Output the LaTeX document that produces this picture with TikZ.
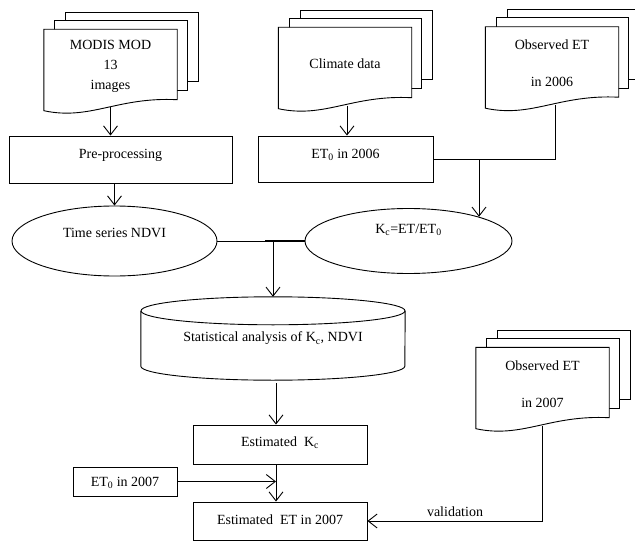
\documentclass[tikz,border=0pt]{standalone}
\usepackage{fontspec}
\setmainfont{Liberation Serif}
\usetikzlibrary{shapes.geometric,calc,arrows.meta,backgrounds}
\newcommand\docshape[1]{%
  \draw[docline] ($(#1.north west)+(22,-17)$) rectangle ($(#1.south east)+(21,-21)$);
  \draw[docline] ($(#1.north west)+(11,-9)$) rectangle ($(#1.south east)+(10,-12)$);
  \draw[docline] (#1.north west) -- (#1.north east) -- ($(#1.south east)+(0,-3)$)
    .. controls ($(#1.south east)+(-60,-6)$) and ($(#1.south west)+(46.5,18)$) .. ($(#1.south west)+(0,8)$) -- cycle;
}
\begin{document}
\begin{tikzpicture}[x=1pt,y=-1pt,
  every node/.style={font=\fontsize{14}{17}\selectfont},
  ln/.style={line width=0.9pt},
  arr/.style={line width=0.9pt,-{Straight Barb[length=9pt,width=14pt]}},
  box/.style={draw,line width=0.9pt,rectangle,inner sep=0pt,text height=10pt},
  oval/.style={draw,line width=0.9pt,ellipse,inner sep=0pt,text height=10pt},
  docnode/.style={rectangle,inner sep=0pt,minimum width=133pt,minimum height=73pt,align=center},
  docline/.style={fill=white,line width=0.9pt},
]
\useasboundingbox (0,0) rectangle (635,543);

% documents
\node[docnode] (modis) at (110.5,66) {MODIS MOD\\[3pt]13\\[3pt]images};
\node[docnode] (clim) at (345,64) {Climate data};
\node[docnode] (obs6) at (552,63.5) {Observed ET\\[20pt]in 2006};
\node[docnode] (obs7) at (542.5,384) {Observed ET\\[20pt]in 2007};

% boxes
\node[box,minimum width=223pt,minimum height=47pt,text depth=11.8pt] (pre) at (120.5,159.5) {Pre-processing};
\node[box,minimum width=175pt,minimum height=46pt,text depth=10.8pt] (et6) at (345.5,159) {ET\textsubscript{0} in 2006};
\node[oval,minimum width=205pt,minimum height=70pt,text depth=16.8pt] (ts) at (114.5,241) {Time series NDVI};
\node[oval,minimum width=207pt,minimum height=65pt,text depth=24.8pt] (kc) at (408.5,241) {K\textsubscript{c}=ET/ET\textsubscript{0}};
\node[rectangle,inner sep=0pt,minimum width=264pt,minimum height=83pt] (cyl) at (273,338.5) {Statistical analysis of K\textsubscript{c}, NDVI};
\node[box,minimum width=174pt,minimum height=39pt,text depth=5.8pt] (ekc) at (280,444.5) {Estimated\ \ K\textsubscript{c}};
\node[box,minimum width=104pt,minimum height=29pt,text depth=0.5pt] (et7) at (125,481.5) {ET\textsubscript{0} in 2007};
\node[box,minimum width=174pt,minimum height=38pt,text depth=2.8pt] (eet) at (280,521) {Estimated\ \ ET in 2007};
\node[inner sep=0pt] (val) at (455,512) {validation};

\begin{scope}[on background layer]
  \fill[white] (0,0) rectangle (635,543);
  \docshape{modis}
  \docshape{clim}
  \docshape{obs6}
  \docshape{obs7}
  % cylinder
  \draw[ln,fill=white] ($(cyl.north west)+(0,14)$) -- ($(cyl.south west)+(0,-14)$)
     arc[start angle=180,end angle=0,x radius=132,y radius=14]
     -- ($(cyl.north east)+(0,14)$);
  \draw[ln] ($(cyl.north)+(0,14)$) ellipse [x radius=132, y radius=14];
\end{scope}

% connectors
\coordinate (m1) at ($(modis.south)+(0,4)$);
\draw[arr] (m1) -- (m1 |- pre.north);
\draw[arr] (ts.north |- pre.south) -- (ts.north);
\coordinate (c1) at ($(clim.south)+(2,5)$);
\draw[arr] (c1) -- (c1 |- et6.north);
\coordinate (o6) at ($(obs6.south)+(3,5)$);
\draw[ln] (o6) -- (o6 |- et6.east) -- (et6.east);
\coordinate (j1) at (479,159);
\draw[arr] (j1) -- (j1 |- kc.19);
\draw[ln] (ts.east) -- (kc.west);
\coordinate (thk) at (265,241);
\draw[line width=1.8pt] (thk) -- (kc.west);
\coordinate (j2) at (273,241);
\draw[arr] (j2) -- (j2 |- cyl.north);
\coordinate (c3) at (276,383);
\draw[arr] (c3) -- (c3 |- ekc.north);
\draw[arr] (c3 |- ekc.south) -- (c3 |- eet.north);
\draw[arr] (et7.east) -- (c3 |- et7.east);
\coordinate (o7) at ($(obs7.south)+(0,5)$);
\draw[arr] (o7) -- (o7 |- eet.east) -- (eet.east);
\end{tikzpicture}
\end{document}
